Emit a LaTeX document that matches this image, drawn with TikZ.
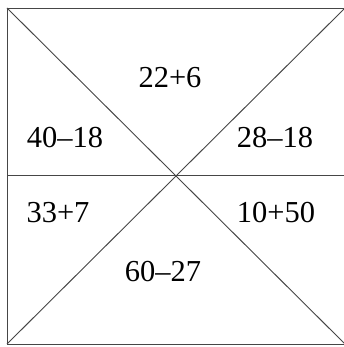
\documentclass[tikz,border=0pt]{standalone}
\usepackage{fontspec}
\setmainfont{Liberation Serif}
\definecolor{gridLine}{RGB}{70,70,70}
\usetikzlibrary{positioning}

\begin{document}
\begin{tikzpicture}[x=0.03cm, y=-0.03cm,
    sum/.style={font=\fontsize{26}{30}\selectfont, inner sep=0pt},
    edge/.style={draw=gridLine, line width=0.8pt}]
    \useasboundingbox (0,0) rectangle (343,347);

    % Corners of the square
    \coordinate (tl) at (7,8);
    \coordinate (tr) at (345,8);
    \coordinate (bl) at (7,344);
    \coordinate (br) at (345,344);
    \coordinate (ml) at (7,175);
    \coordinate (mr) at (345,175);

    % Frame, diagonals and middle line
    \draw[edge] (tl) -- (tr) -- (br) -- (bl) -- cycle;
    \draw[edge] (tl) -- (br);
    \draw[edge] (tr) -- (bl);
    \draw[edge] (ml) -- (mr);

    % Sums in the pieces
    \node[sum] (top) at (170,78) {22+6};
    \node[sum] (upleft) at (65,138) {40--18};
    \node[sum] (upright) at (275,138) {28--18};
    \node[sum] (lowleft) at (58,213) {33+7};
    \node[sum] (lowright) at (276,213) {10+50};
    \node[sum] (bottom) at (163,272) {60--27};
\end{tikzpicture}
\end{document}
